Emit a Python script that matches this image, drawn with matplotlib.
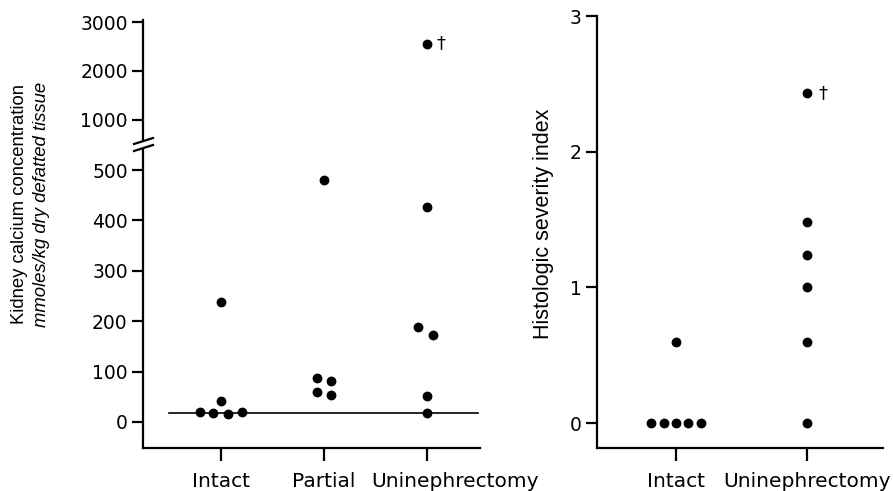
import matplotlib
matplotlib.use("Agg")
import matplotlib.pyplot as plt
import matplotlib.transforms as mtransforms
import numpy as np

# ---- data ----
left_categories = ["Intact", "Partial", "Uninephrectomy"]
intact_ca = [239, 41, 20, 17, 16, 20]
partial_ca = [480, 87, 82, 60, 53]
uninephrectomy_ca = [2560, 427, 189, 172, 52, 18]
ca_median = 18
ca_upper_ticks = [1000, 2000, 3000]
ca_lower_ticks = [0, 100, 200, 300, 400, 500]

right_categories = ["Intact", "Uninephrectomy"]
intact_hsi = [0.6, 0, 0, 0, 0, 0]
uninephrectomy_hsi = [2.43, 1.48, 1.24, 1.0, 0.6, 0]
hsi_ticks = [0, 1, 2, 3]

# jitter (layout only)
intact_ca_dx = [0, 0, -0.2, -0.08, 0.07, 0.2]
partial_ca_dx = [0, -0.07, 0.07, -0.07, 0.07]
unineph_ca_dx = [0, 0, -0.09, 0.06, 0, 0]
intact_hsi_dx = [0, -0.19, -0.095, 0, 0.095, 0.19]
unineph_hsi_dx = [0, 0, 0, 0, 0, 0]

plt.rcParams['font.family'] = ['Liberation Sans', 'DejaVu Sans']
W, H = 893, 491
fig = plt.figure(figsize=(W / 100, H / 100), dpi=100)

def rect(x0, x1, ytop, ybot):
    return [x0 / W, 1 - ybot / H, (x1 - x0) / W, (ybot - ytop) / H]

LW = 1.6
MS = 50
TICKFONT = 'DejaVu Sans'
TICKSIZE = 13.5
cat_font = dict(fontsize=14.5, family='DejaVu Sans')

def style_y(ax):
    ax.tick_params(axis='y', length=8, width=LW, pad=3, labelsize=TICKSIZE)
    for lab in ax.get_yticklabels():
        lab.set_family(TICKFONT)

# ---- left panel ----
ax_top = fig.add_axes(rect(143, 480, 20, 139))
ax_bot = fig.add_axes(rect(143, 480, 149, 448))
for ax in (ax_top, ax_bot):
    ax.set_xlim(-0.757, 2.515)
    for s in ('top', 'right'):
        ax.spines[s].set_visible(False)
    ax.spines['left'].set_linewidth(LW)
ax_top.spines['bottom'].set_visible(False)
ax_top.set_xticks([])
ax_top.set_ylim(612, 3041)
ax_top.set_yticks(ca_upper_ticks)
ax_bot.set_ylim(-51.6, 541.7)
ax_bot.set_yticks(ca_lower_ticks)
style_y(ax_top)
style_y(ax_bot)
ax_bot.spines['bottom'].set_linewidth(LW)
ax_bot.set_xticks(range(len(left_categories)))
ax_bot.set_xticklabels(left_categories, **cat_font)
ax_bot.tick_params(axis='x', length=9, width=LW, pad=8)
# last label sits to the right of its tick in the original
lab = ax_bot.get_xticklabels()[-1]
lab.set_transform(lab.get_transform() +
                  mtransforms.ScaledTranslation(28 / 100, 0, fig.dpi_scale_trans))

groups = [intact_ca, partial_ca, uninephrectomy_ca]
dxs = [intact_ca_dx, partial_ca_dx, unineph_ca_dx]
for i, (vals, dx) in enumerate(zip(groups, dxs)):
    xs = np.array(dx) + i
    vals = np.array(vals)
    for ax in (ax_top, ax_bot):
        lo, hi = ax.get_ylim()
        m = (vals >= lo) & (vals <= hi)
        ax.scatter(xs[m], vals[m], s=MS, color='black', zorder=3, clip_on=False,
                   linewidths=0)

ax_bot.plot([-0.5, 2.5], [ca_median, ca_median], color='black', lw=1.2)
ax_top.text(2.09, uninephrectomy_ca[0], "†", fontsize=13, va='center', ha='left',
            family='DejaVu Sans')

# break marks
for yb in (141, 148):
    fig.add_artist(plt.Line2D([134 / W, 153 / W], [1 - (yb + 3) / H, 1 - (yb - 3) / H],
                              color='black', lw=LW))

fig.text(20 / W, 1 - 204 / H, "Kidney calcium concentration", rotation=90,
         ha='center', va='center', fontsize=13.3)
fig.text(42 / W, 1 - 204 / H, "mmoles/kg dry defatted tissue", rotation=90,
         ha='center', va='center', fontsize=13.3, style='italic')

# ---- right panel ----
axr = fig.add_axes(rect(597, 883, 16, 448))
axr.set_xlim(-0.603, 1.58)
axr.set_ylim(-0.184, 3.0)
for s in ('top', 'right'):
    axr.spines[s].set_visible(False)
axr.spines['left'].set_linewidth(LW)
axr.spines['bottom'].set_linewidth(LW)
axr.set_yticks(hsi_ticks)
style_y(axr)
axr.set_xticks(range(len(right_categories)))
axr.set_xticklabels(right_categories, **cat_font)
axr.tick_params(axis='x', length=9, width=LW, pad=8)
for i, (vals, dx) in enumerate(zip([intact_hsi, uninephrectomy_hsi],
                                   [intact_hsi_dx, unineph_hsi_dx])):
    axr.scatter(np.array(dx) + i, vals, s=MS, color='black', zorder=3, clip_on=False,
                linewidths=0)
axr.text(1.09, uninephrectomy_hsi[0], "†", fontsize=13, va='center', ha='left',
         family='DejaVu Sans')
fig.text(544 / W, 1 - 224 / H, "Histologic severity index", rotation=90,
         ha='center', va='center', fontsize=15.5)

fig.savefig("out.png", dpi=100)
